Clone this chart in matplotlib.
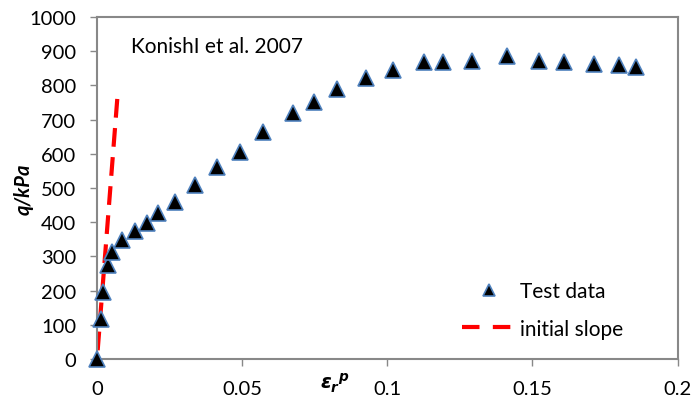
import matplotlib
matplotlib.use("Agg")
import matplotlib.pyplot as plt

strain = [0.0, 0.0013, 0.0022, 0.0039, 0.0053, 0.0085, 0.0131, 0.0171, 0.0211, 0.0269,
          0.0336, 0.0413, 0.0493, 0.0572, 0.0674, 0.0748, 0.0827, 0.0927, 0.1020, 0.1127,
          0.1193, 0.1292, 0.1413, 0.1523, 0.1609, 0.1712, 0.1799, 0.1858]
q = [0, 117, 197, 275, 313, 349, 375, 398, 426, 460,
     510, 560, 605, 665, 719, 752, 790, 822, 845, 869,
     869, 872, 886, 872, 868, 862, 860, 854]

slope_x = [0.0, 0.0070]
slope_y = [0, 762]

plt.rcParams['font.family'] = ['Lato', 'DejaVu Sans']
plt.rcParams['mathtext.fontset'] = 'custom'
plt.rcParams['mathtext.it'] = 'DejaVu Sans:italic:bold'
plt.rcParams['mathtext.rm'] = 'DejaVu Sans:bold'

fig = plt.figure(figsize=(6.96, 4.10), dpi=100)
ax = fig.add_axes([97/696, 1-360/410, (677.5-97)/696, (360-18)/410])

ax.plot(slope_x, slope_y, color='#FF0000', lw=3, ls=(4.9, (4.5, 2.5)), label='initial slope', zorder=2)
ax.plot(strain, q, ls='none', marker='^', ms=11, mfc='black', mec='#4F81BD', mew=1.2,
        label='Test data', zorder=3, clip_on=False)

ax.set_xlim(0, 0.2)
ax.set_ylim(0, 1000)
ax.set_xticks([0, 0.05, 0.1, 0.15, 0.2])
ax.set_xticklabels(['0', '0.05', '0.1', '0.15', '0.2'])
ax.set_yticks(range(0, 1001, 100))
for s in ax.spines.values():
    s.set_color('#888888')
    s.set_linewidth(1.5)
ax.tick_params(axis='both', direction='out', color='#888888', width=1, length=5,
               labelsize=14.5)
ax.tick_params(axis='y', pad=10)
ax.tick_params(axis='x', pad=10)

ax.set_ylabel('q/kPa', fontsize=14.5, fontweight='bold', style='italic')
ax.yaxis.set_label_coords(-0.11, 0.5)
ax.set_xlabel(r'$\varepsilon_r{}^p$', fontsize=14)
ax.xaxis.set_label_coords((335-97)/580.5, -0.035)

ax.text(0.058, 0.915, 'KonishI et al. 2007', transform=ax.transAxes, fontsize=15,
        ha='left', va='center')

handles, labels = ax.get_legend_handles_labels()
leg = ax.legend(handles[::-1], labels[::-1], loc='lower left', bbox_to_anchor=(0.597, 0.005),
                frameon=False, fontsize=15, handlelength=2.6, labelspacing=0.84,
                markerscale=0.8, handletextpad=0.15)
for ln in leg.get_lines():
    if ln.get_label() == 'initial slope' or ln.get_color() == '#FF0000':
        ln.set_linestyle((0, (4.2, 3.2)))

fig.savefig('out.png', dpi=100)
